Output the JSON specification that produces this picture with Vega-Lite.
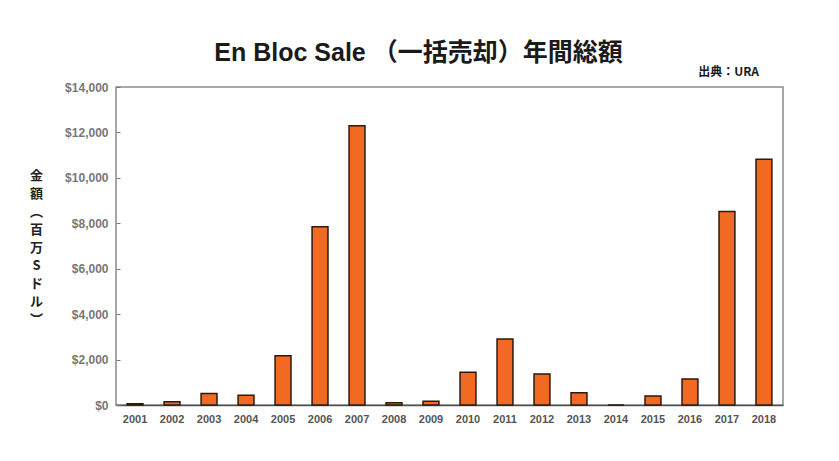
{
  "$schema": "https://vega.github.io/schema/vega-lite/v6.json",
  "width": 667,
  "height": 318,
  "autosize": {"type": "none"},
  "padding": {"left": 116, "top": 87, "right": 56, "bottom": 56},
  "background": "white",
  "config": {
    "font": "Liberation Sans, Noto Sans CJK JP",
    "view": {"stroke": "#8a8a8a", "strokeWidth": 1.5}
  },
  "title": {
    "text": "En Bloc Sale （一括売却）年間総額",
    "font": "Liberation Sans, Noto Sans CJK JP",
    "fontSize": 25,
    "fontWeight": "bold",
    "color": "#1a1a1a",
    "anchor": "middle",
    "frame": "group",
    "dx": -31,
    "offset": 0
  },
  "data": {
    "values": [
      {"year": "2001", "amount": 60},
      {"year": "2002", "amount": 140},
      {"year": "2003", "amount": 510},
      {"year": "2004", "amount": 430},
      {"year": "2005", "amount": 2170},
      {"year": "2006", "amount": 7850},
      {"year": "2007", "amount": 12290},
      {"year": "2008", "amount": 100},
      {"year": "2009", "amount": 170},
      {"year": "2010", "amount": 1440},
      {"year": "2011", "amount": 2910},
      {"year": "2012", "amount": 1370},
      {"year": "2013", "amount": 540},
      {"year": "2014", "amount": 0},
      {"year": "2015", "amount": 400},
      {"year": "2016", "amount": 1150},
      {"year": "2017", "amount": 8520},
      {"year": "2018", "amount": 10820}
    ]
  },
  "layer": [
    {
      "mark": {"type": "bar", "fill": "#F26A21", "stroke": "#2a1a10", "strokeWidth": 1.5},
      "encoding": {
        "x": {
          "field": "year",
          "type": "ordinal",
          "scale": {"paddingInner": 0.57, "paddingOuter": 0.3},
          "axis": {
            "title": null,
            "labelAngle": 0,
            "labelFontSize": 11,
            "labelFontWeight": "bold",
            "labelColor": "#555555",
            "labelPadding": 8,
            "ticks": false,
            "domainColor": "#555555",
            "domainWidth": 1.5
          }
        },
        "y": {
          "field": "amount",
          "type": "quantitative",
          "scale": {"domain": [0, 14000], "nice": false},
          "axis": {
            "values": [0, 2000, 4000, 6000, 8000, 10000, 12000, 14000],
            "format": "$,.0f",
            "grid": false,
            "domain": false,
            "tickSize": -4,
            "tickColor": "#777777",
            "labelFontSize": 12,
            "labelFontWeight": "bold",
            "labelColor": "#777777",
            "labelPadding": 12,
            "title": ["金", "額", "︵", "百", "万", "S", "ド", "ル", "︶"],
            "titleAngle": 0,
            "titleX": -80,
            "titleY": 82,
            "titleAlign": "center",
            "titleBaseline": "top",
            "titleFontSize": 13,
            "titleFontWeight": "bold",
            "titleColor": "#222222",
            "titleLineHeight": 18,
            "titleFont": "Noto Sans CJK JP"
          }
        }
      }
    },
    {
      "data": {"values": [{"label": "出典：URA"}]},
      "mark": {"type": "text", "align": "right", "baseline": "middle", "dx": -5, "dy": -15, "fontSize": 12, "fontWeight": "bold", "color": "#1a1a1a", "font": "Noto Sans CJK JP"},
      "encoding": {
        "x": {"datum": "2018", "type": "ordinal"},
        "y": {"datum": 14000, "type": "quantitative"},
        "text": {"field": "label"}
      }
    }
  ]
}
